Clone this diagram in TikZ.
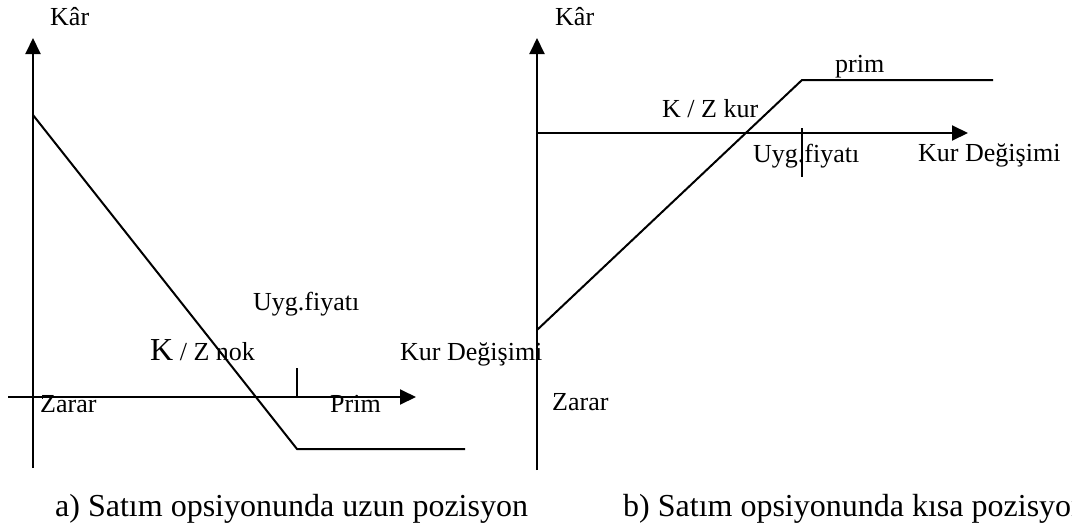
\documentclass[tikz,border=0pt]{standalone}
\usepackage{fontspec}
\setmainfont{Liberation Serif}
\usetikzlibrary{arrows.meta}
\tikzset{
  axis/.style={line width=2pt,-{Triangle[length=16pt,width=15pt]}},
  curve/.style={line width=2pt,line join=miter},
  tickline/.style={line width=2pt},
  lbl/.style={inner sep=0pt,anchor=base west,font=\fontsize{26}{30}\selectfont},
  captext/.style={inner sep=0pt,anchor=base west,font=\fontsize{32}{36}\selectfont}
}
\begin{document}
\begin{tikzpicture}[x=1pt,y=-1pt]
\useasboundingbox (0,0) rectangle (1072,528);
% ---------- left chart ----------
\coordinate (ya0) at (33,468);
\coordinate (ya1) at (33,38);
\coordinate (xa0) at (8,397);
\coordinate (xa1) at (416,397);
\coordinate (pa0) at (33,115);
\coordinate (pa1) at (297,449);
\coordinate (pa2) at (465,449);
\coordinate (ta0) at (297,368);
\coordinate (ta1) at (297,398);
\draw[axis] (ya0) -- (ya1);
\draw[axis] (xa0) -- (xa1);
\draw[curve] (pa0) -- (pa1) -- (pa2);
\draw[tickline] (ta0) -- (ta1);
\node[lbl] (karA) at (50,25) {Kâr};
\node[lbl] (uygA) at (253,310) {Uyg.fiyatı};
\node[lbl] (kzA) at (150,360) {{\fontsize{32}{36}\selectfont K} / Z nok};
\node[lbl] (kurA) at (400,360) {Kur Değişimi};
\node[lbl] (zararA) at (40,412) {Zarar};
\node[lbl] (primA) at (330,412) {Prim};
\node[captext] (capA) at (55,516) {a) Satım opsiyonunda uzun pozisyon};
% ---------- right chart ----------
\coordinate (yb0) at (537,470);
\coordinate (yb1) at (537,38);
\coordinate (xb0) at (537,133);
\coordinate (xb1) at (968,133);
\coordinate (pb0) at (537,330);
\coordinate (pb1) at (802,80);
\coordinate (pb2) at (993,80);
\coordinate (tb0) at (802,128);
\coordinate (tb1) at (802,177);
\draw[axis] (yb0) -- (yb1);
\draw[axis] (xb0) -- (xb1);
\draw[curve] (pb0) -- (pb1) -- (pb2);
\draw[tickline] (tb0) -- (tb1);
\node[lbl] (karB) at (555,25) {Kâr};
\node[lbl] (primB) at (835,72) {prim};
\node[lbl] (kzB) at (662,117) {K / Z kur};
\node[lbl] (uygB) at (753,162) {Uyg.fiyatı};
\node[lbl] (kurB) at (918,161) {Kur Değişimi};
\node[lbl] (zararB) at (552,410) {Zarar};
\node[captext] (capB) at (623,516) {b) Satım opsiyonunda kısa pozisyon};
\end{tikzpicture}
\end{document}
